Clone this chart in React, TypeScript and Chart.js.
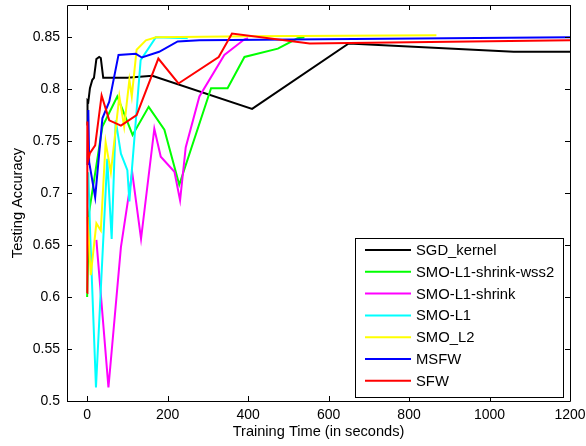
import { useEffect, useRef } from "react";
import { Chart, registerables } from "chart.js";

Chart.register(...registerables);

const FONT = "'Liberation Sans', Arial, Helvetica, sans-serif";

// Tick labels
const xTicks = [0, 200, 400, 600, 800, 1000, 1200];
const yTicks = [0.5, 0.55, 0.6, 0.65, 0.7, 0.75, 0.8, 0.85];

// Series names / colours
const seriesNames = ["SGD_kernel", "SMO-L1-shrink-wss2", "SMO-L1-shrink", "SMO-L1", "SMO_L2", "MSFW", "SFW"];
const seriesColors = ["#000000", "#00ff00", "#ff00ff", "#00ffff", "#ffff00", "#0000ff", "#ff0000"];

// SGD_kernel
const sgdT = [0, 1, 3, 7, 13, 17, 23, 30, 34, 40, 100, 162, 410, 650, 1060, 1200];
const sgdA = [0.765, 0.789, 0.788, 0.801, 0.809, 0.811, 0.829, 0.831, 0.83, 0.811, 0.811, 0.813, 0.781, 0.844, 0.836, 0.836];

// SMO-L1-shrink-wss2
const wss2T = [0, 5, 38, 75, 113, 153, 192, 229, 308, 349, 391, 474, 523, 540];
const wss2A = [0.6, 0.682, 0.764, 0.793, 0.756, 0.783, 0.761, 0.708, 0.801, 0.801, 0.831, 0.839, 0.849, 0.85];

// SMO-L1-shrink
const shrinkT = [23, 53, 84, 112, 134, 167, 183, 217, 231, 245, 279, 341, 391, 400];
const shrinkA = [0.655, 0.513, 0.648, 0.72, 0.656, 0.762, 0.735, 0.7205, 0.693, 0.744, 0.793, 0.833, 0.848, 0.849];

// SMO-L1
const l1T = [3, 8, 22, 50, 61, 71, 84, 100, 105, 133, 171, 250];
const l1A = [0.72, 0.656, 0.513, 0.733, 0.656, 0.77, 0.738, 0.722, 0.692, 0.828, 0.85, 0.849];

// SMO_L2
const l2T = [1, 9, 23, 34, 46, 59, 80, 92, 105, 111, 123, 146, 171, 400, 868];
const l2A = [0.677, 0.621, 0.671, 0.664, 0.749, 0.72, 0.793, 0.764, 0.809, 0.793, 0.838, 0.847, 0.85, 0.851, 0.852];

// MSFW
const msfwT = [1, 3, 5, 20, 38, 55, 78, 121, 136, 179, 225, 279, 1200];
const msfwA = [0.727, 0.78, 0.73, 0.696, 0.772, 0.788, 0.833, 0.834, 0.8305, 0.836, 0.846, 0.847, 0.85];

// SFW
const sfwT = [0, 0.5, 3, 7, 20, 36, 55, 84, 123, 177, 227, 327, 360, 553, 1200];
const sfwA = [0.604, 0.769, 0.732, 0.7385, 0.746, 0.794, 0.77, 0.765, 0.775, 0.8295, 0.8055, 0.831, 0.8536, 0.844, 0.847];

const seriesT = [sgdT, wss2T, shrinkT, l1T, l2T, msfwT, sfwT];
const seriesA = [sgdA, wss2A, shrinkA, l1A, l2A, msfwA, sfwA];

const framePlugin = {
  id: "matlabFrame",
  afterDraw(chart: any) {
    const { ctx, chartArea, scales } = chart;
    const { left, top, right, bottom } = chartArea;
    const xs = scales.x;
    const ys = scales.y;
    ctx.save();
    ctx.strokeStyle = "#000";
    ctx.lineWidth = 1;
    ctx.beginPath();
    ctx.rect(Math.round(left) + 0.5, Math.round(top) + 0.5, Math.round(right - left), Math.round(bottom - top));
    ctx.stroke();
    const tl = 5;
    ctx.beginPath();
    xTicks.forEach((v) => {
      const px = Math.round(xs.getPixelForValue(v)) + 0.5;
      ctx.moveTo(px, bottom);
      ctx.lineTo(px, bottom - tl);
      ctx.moveTo(px, top);
      ctx.lineTo(px, top + tl);
    });
    yTicks.forEach((v) => {
      const py = Math.round(ys.getPixelForValue(v)) + 0.5;
      ctx.moveTo(left, py);
      ctx.lineTo(left + tl, py);
      ctx.moveTo(right, py);
      ctx.lineTo(right - tl, py);
    });
    ctx.stroke();

    // legend (MATLAB style, lower right)
    const lx = 355, ly = 238, lw = 208, lh = 159;
    ctx.fillStyle = "#fff";
    ctx.fillRect(lx, ly, lw, lh);
    ctx.strokeStyle = "#000";
    ctx.lineWidth = 1;
    ctx.strokeRect(lx + 0.5, ly + 0.5, lw, lh);
    const rowH = 21.8;
    ctx.font = `14.8px ${FONT}`;
    ctx.textBaseline = "middle";
    ctx.textAlign = "left";
    seriesNames.forEach((name, i) => {
      const cy = ly + 12 + i * rowH;
      ctx.strokeStyle = seriesColors[i];
      ctx.lineWidth = 2;
      ctx.beginPath();
      ctx.moveTo(365, cy);
      ctx.lineTo(411, cy);
      ctx.stroke();
      ctx.fillStyle = "#000";
      ctx.fillText(name, 416, cy + 1);
    });
    ctx.restore();
  },
};

export default function App() {
  const ref = useRef<HTMLCanvasElement | null>(null);
  useEffect(() => {
    document.body.style.margin = "0";
    const canvas = ref.current;
    if (!canvas) return;
    const datasets = seriesNames.map((name, i) => ({
      label: name,
      data: seriesT[i].map((t, j) => ({ x: t, y: seriesA[i][j] })),
      borderColor: seriesColors[i],
      backgroundColor: seriesColors[i],
      borderWidth: 2,
      pointRadius: 0,
      tension: 0,
      fill: false,
      order: seriesNames.length - i,
    }));
    const chart = new Chart(canvas, {
      type: "line",
      data: { datasets },
      options: {
        responsive: false,
        animation: false,
        devicePixelRatio: 1,
        layout: { padding: { top: 5, right: 16, left: 0, bottom: 0 } },
        plugins: { legend: { display: false }, tooltip: { enabled: false } },
        scales: {
          x: {
            type: "linear",
            min: -50,
            max: 1200,
            afterBuildTicks: (s: any) => {
              s.ticks = xTicks.map((v) => ({ value: v }));
            },
            afterFit: (s: any) => {
              s.height = 45;
              s.paddingLeft = 0;
              s.paddingRight = 0;
              s.paddingTop = 0;
              s.paddingBottom = 0;
            },
            grid: { display: false, drawTicks: false },
            border: { display: false },
            ticks: {
              color: "#000",
              font: { family: FONT, size: 14 },
              padding: 6,
              maxRotation: 0,
              autoSkip: false,
              callback: (v: any) => String(v),
            },
            title: {
              display: true,
              text: "Training Time (in seconds)",
              color: "#000",
              font: { family: FONT, size: 14.6 },
              padding: { top: 0, bottom: 5 },
            },
          },
          y: {
            type: "linear",
            min: 0.5,
            max: 0.881,
            afterBuildTicks: (s: any) => {
              s.ticks = yTicks.map((v) => ({ value: v }));
            },
            afterFit: (s: any) => {
              s.width = 67;
              s.paddingLeft = 0;
              s.paddingRight = 0;
              s.paddingTop = 0;
              s.paddingBottom = 0;
            },
            grid: { display: false, drawTicks: false },
            border: { display: false },
            ticks: {
              color: "#000",
              font: { family: FONT, size: 14 },
              padding: 7,
              autoSkip: false,
              callback: (v: any) => String(Number(Number(v).toFixed(2))),
            },
            title: {
              display: true,
              text: "Testing Accuracy",
              color: "#000",
              font: { family: FONT, size: 14.6 },
              padding: { top: 9, bottom: 0 },
            },
          },
        },
      },
      plugins: [framePlugin],
    });
    return () => chart.destroy();
  }, []);
  return (
    <div style={{ width: 586, height: 446, background: "#fff" }}>
      <canvas ref={ref} width={586} height={446} style={{ display: "block" }} />
    </div>
  );
}
